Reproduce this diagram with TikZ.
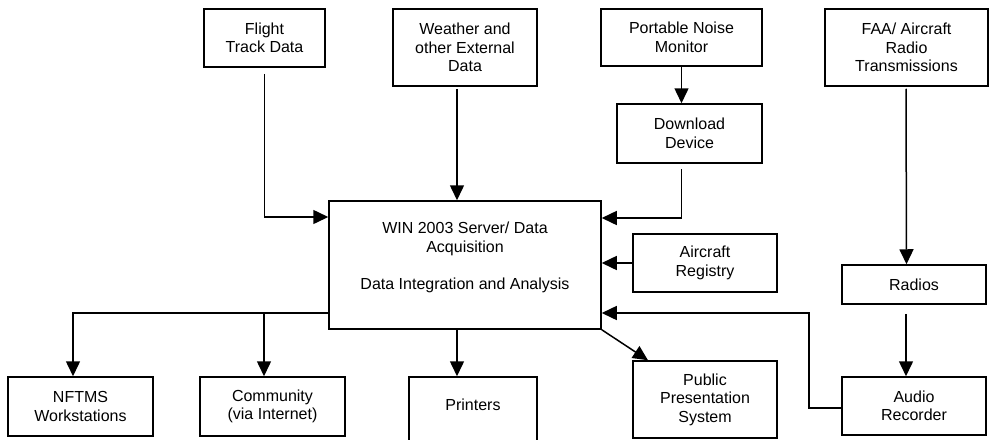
\documentclass[tikz,border=0pt]{standalone}
\usepackage{fontspec}
\setmainfont{Liberation Sans}
\usetikzlibrary{arrows.meta,calc}
\begin{document}
\begin{tikzpicture}[x=1pt,y=-1pt,
 box/.style={draw,line width=1.5pt,align=center,inner sep=0pt,font=\fontsize{16}{18.5}\selectfont},
 arr/.style={line width=1.5pt,-{Triangle[length=15pt,width=14pt]}}]
\clip (0,0) rectangle (990,439);
\node[box,minimum width=121,minimum height=58] (flight) at (264.5,38) {Flight\\Track Data};
\node[box,minimum width=144,minimum height=77] (weather) at (465,47.5) {Weather and\\other External\\Data};
\node[box,minimum width=161,minimum height=57] (pnm) at (681.5,37.5) {Portable Noise\\Monitor};
\node[box,minimum width=145,minimum height=59] (dl) at (689.5,133.5) {Download\\Device};
\node[box,minimum width=163,minimum height=77] (faa) at (906.5,47.5) {FAA/ Aircraft\\Radio\\Transmissions};
\node[box,minimum width=272,minimum height=128] (main) at (465,265) {WIN 2003 Server/ Data\\Acquisition\\\mbox{}\\Data Integration and Analysis\\\mbox{}};
\node[box,minimum width=144,minimum height=58] (reg) at (705,263) {Aircraft\\Registry};
\node[box,minimum width=144,minimum height=39] (radios) at (914,284.5) {Radios};
\node[box,minimum width=144,minimum height=58] (audio) at (914,406) {Audio\\Recorder};
\node[box,minimum width=144,minimum height=77] (pps) at (705,399.5) {Public\\Presentation\\System};
\node[box,minimum width=128,minimum height=76,text depth=20pt] (printers) at (473,415) {Printers};
\node[box,minimum width=145,minimum height=59] (nftms) at (80.5,406.5) {NFTMS\\Workstations};
\node[box,minimum width=145,minimum height=59] (comm) at (272.5,406.5) {Community\\(via Internet)};

\draw[arr] ([yshift=-6pt]flight.south) |- ([yshift=48pt]main.west);
\draw[arr] ([xshift=-8pt,yshift=-2pt]weather.south) -- ([xshift=-8pt]main.north);
\draw[arr] (pnm.south) -- (pnm.south |- dl.north);
\draw[arr] ([xshift=-8pt,yshift=-5pt]dl.south) |- ([yshift=47pt]main.east);
\draw[arr] (reg.west) -- (reg.west -| main.east);
\draw[arr] ([xshift=-0.5pt,yshift=-2pt]faa.south) -- (faa.south |- radios.north);
\draw[arr] ([xshift=-8pt,yshift=-9pt]radios.south) -- ([xshift=-8pt]audio.north);
\coordinate (k) at (809,313);
\draw[arr] ([yshift=-2pt]audio.west) -| (k) -- (k -| main.east);
\draw[arr] (main.south east) -- ([xshift=-57pt]pps.north);
\draw[arr] ([xshift=-8pt]main.south) -- ([xshift=-8pt]main.south |- printers.north);
\coordinate (b) at ([yshift=-48pt]main.west);
\draw[arr] (b) -| ([xshift=-7.5pt]nftms.north);
\draw[arr] ([xshift=-8.5pt]comm.north |- b) -- ([xshift=-8.5pt]comm.north);
\end{tikzpicture}
\end{document}
